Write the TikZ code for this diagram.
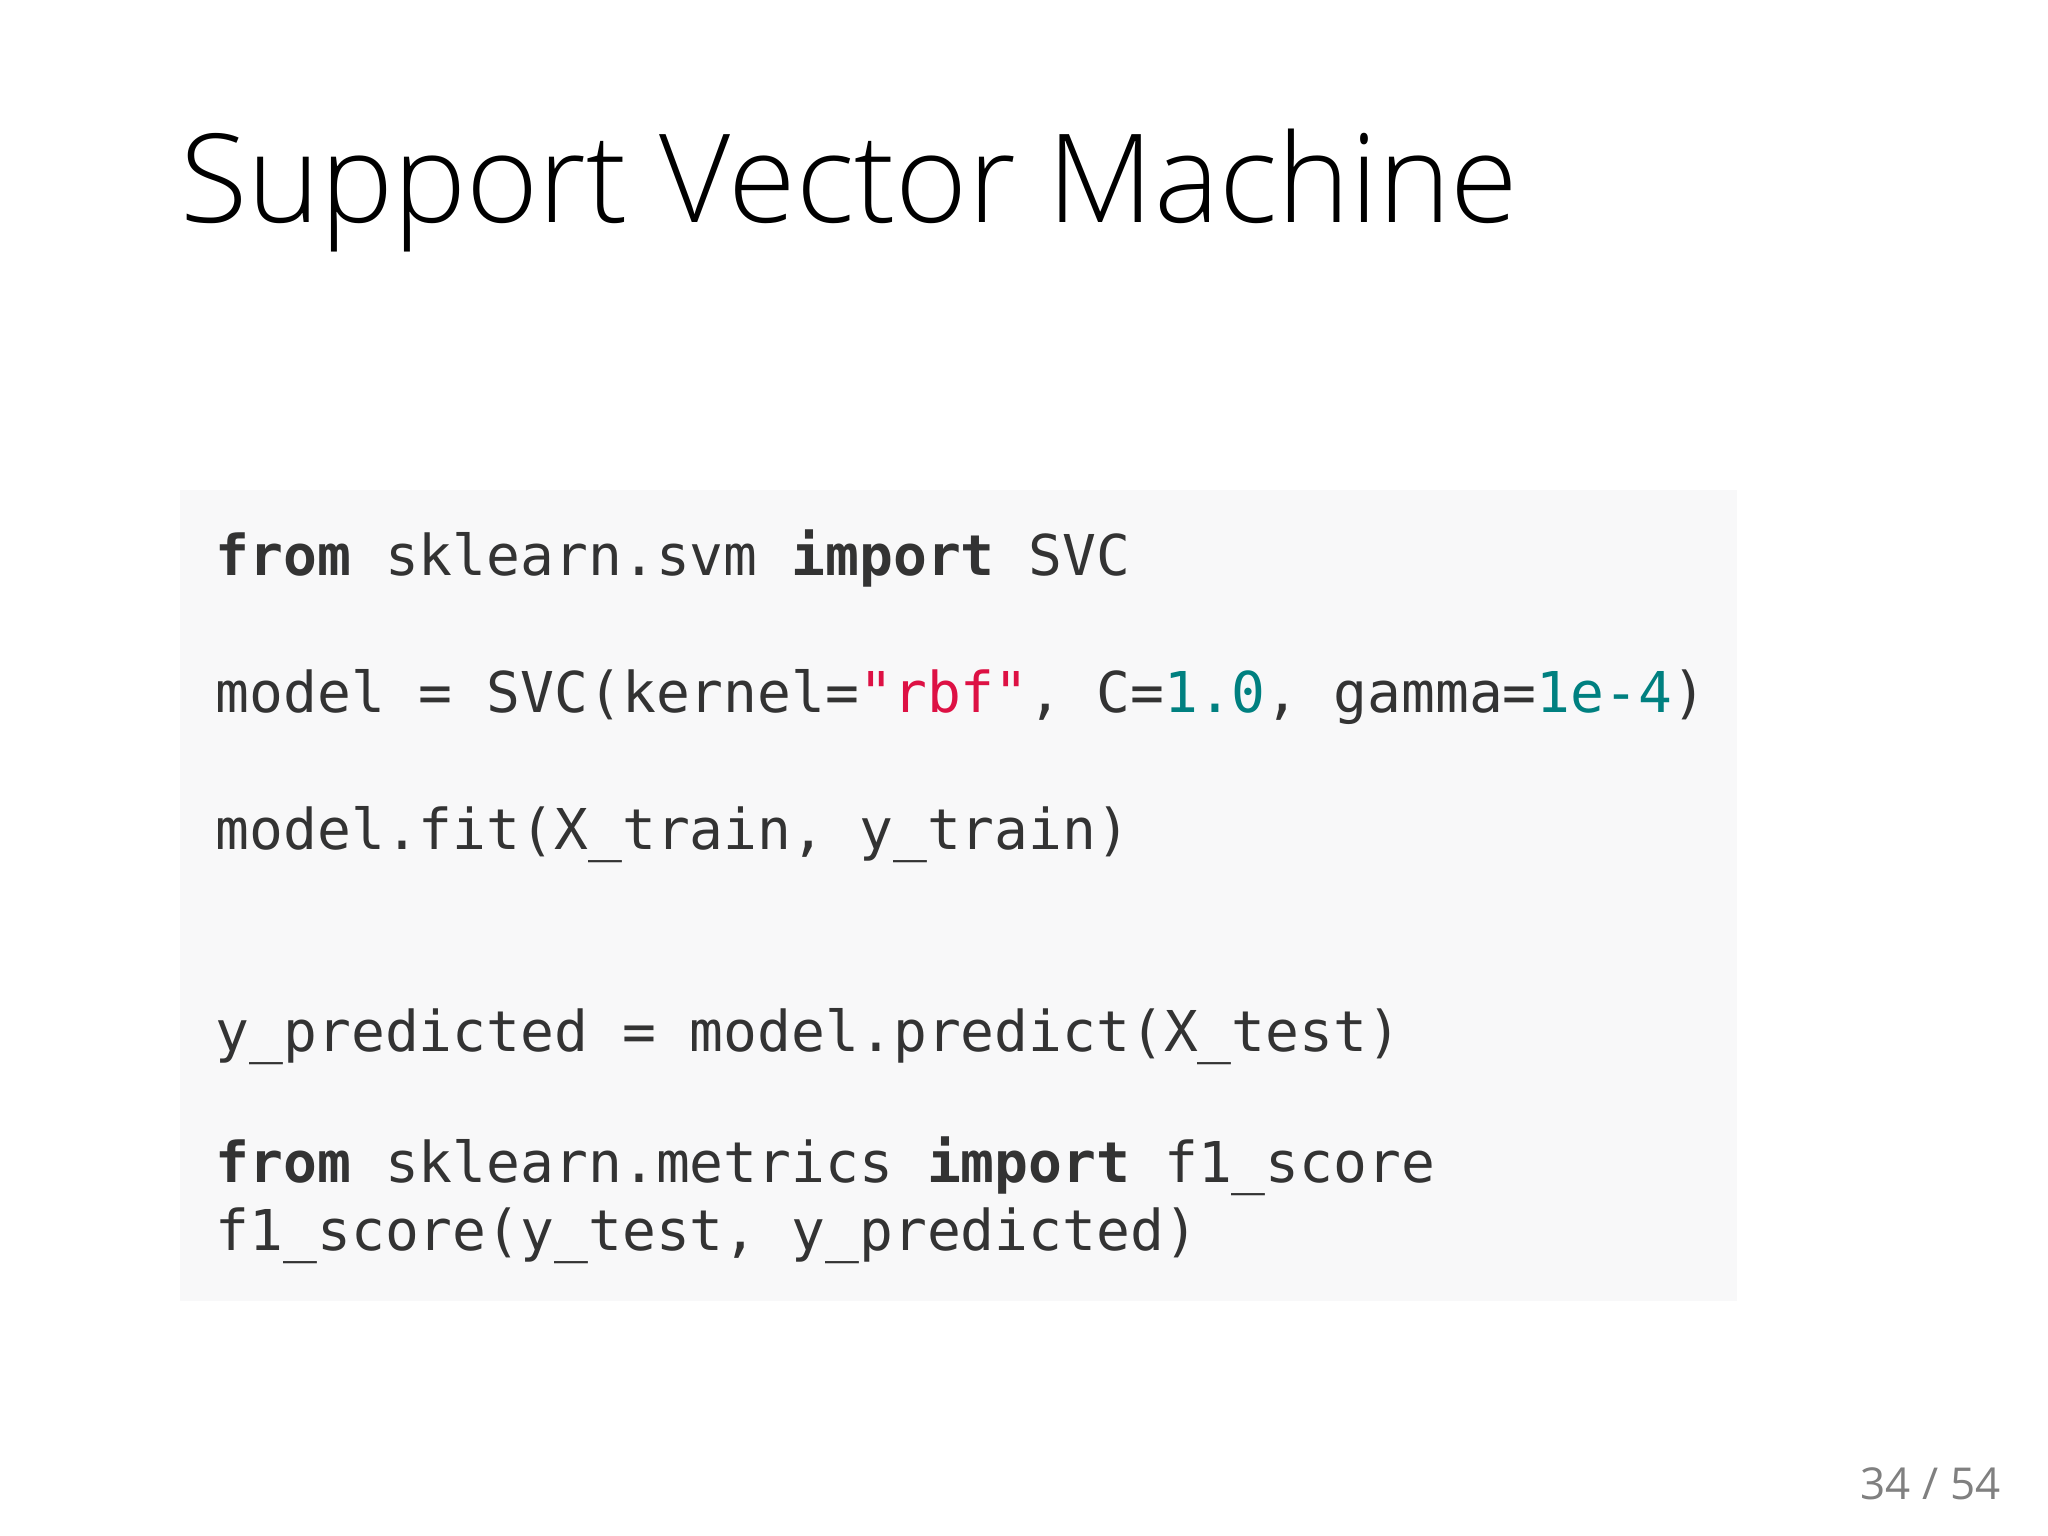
\documentclass[tikz,border=0pt]{standalone}
\usepackage{fontspec}
\setmainfont{Open Sans}
\newfontfamily\codefont{DejaVu Sans Mono}
\newfontfamily\titlefont{Open Sans Light}
\definecolor{codebg}{HTML}{F8F8F9}
\definecolor{codetxt}{HTML}{333333}
\definecolor{strc}{HTML}{DD1144}
\definecolor{numc}{HTML}{008080}
\definecolor{pgc}{HTML}{808080}
\newcommand{\kw}[1]{\textbf{#1}}
\newcommand{\st}[1]{\textcolor{strc}{#1}}
\newcommand{\nm}[1]{\textcolor{numc}{#1}}
\begin{document}
\begin{tikzpicture}[x=0.01cm,y=-0.01cm,
  code/.style={anchor=base west,inner sep=0,text=codetxt,font=\codefont\fontsize{16}{18}\selectfont}]
\useasboundingbox[fill=white] (0,0) rectangle (2048,1536);
\node[anchor=base west,inner sep=0,font=\titlefont\fontsize{35}{42}\selectfont] (title) at (180,222) {Support Vector Machine};
\fill[codebg] (180,490) rectangle (1737,1301);
\node[code] (l1) at (215,575) {\kw{from} sklearn.svm \kw{import} SVC};
\node[code] (l2) at (215,712) {model = SVC(kernel=\st{"rbf"}, C=\nm{1.0}, gamma=\nm{1e-4})};
\node[code] (l3) at (215,849) {model.fit(X\_train, y\_train)};
\node[code] (l4) at (215,1051) {y\_predicted = model.predict(X\_test)};
\node[code] (l5) at (215,1182) {\kw{from} sklearn.metrics \kw{import} f1\_score};
\node[code] (l6) at (215,1250) {f1\_score(y\_test, y\_predicted)};
\node[anchor=base east,inner sep=0,text=pgc,font=\fontsize{12.5}{15}\selectfont] (pg) at (2001,1499) {34 / 54};
\end{tikzpicture}
\end{document}
